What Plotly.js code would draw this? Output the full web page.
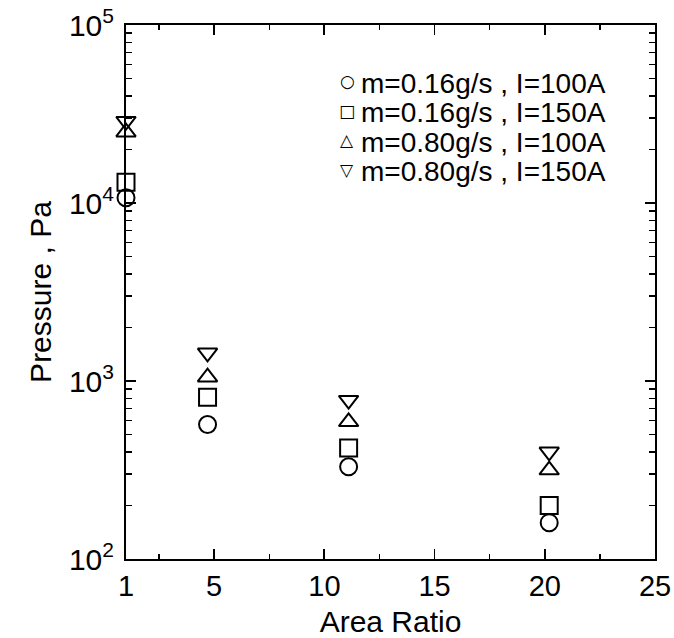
<!DOCTYPE html>
<html>
<head>
<meta charset="utf-8">
<script src="https://cdn.plot.ly/plotly-3.0.1.min.js"></script>
<style>
  html, body { margin: 0; padding: 0; background: #fff; }
  #chart { width: 674px; height: 638px; }
</style>
</head>
<body>
<div id="chart"></div>
<script>
// Area ratios at which the pressure was measured
const areaRatio = [1, 4.7, 11.1, 20.2];

// Pressure (Pa) for each operating condition
const p016_100 = [10700, 570, 330, 160];
const p016_150 = [13100, 810, 420, 200];
const p080_100 = [25000, 1050, 590, 316];
const p080_150 = [28800, 1440, 780, 400];

const seriesNames = [
  'm=0.16g/s , I=100A',
  'm=0.16g/s , I=150A',
  'm=0.80g/s , I=100A',
  'm=0.80g/s , I=150A'
];
const seriesSymbols = ['circle-open', 'square-open', 'triangle-up-open', 'triangle-down-open'];
const keyGlyphs = ['\u25CB', '\u25A1', '\u25B3', '\u25BD'];
const seriesValues = [p016_100, p016_150, p080_100, p080_150];

// Axis tick labels
const xTickVals = [1, 5, 10, 15, 20, 25];
const yTickVals = [100, 1000, 10000, 100000];
const yTickText = ['10<sup>2</sup>', '10<sup>3</sup>', '10<sup>4</sup>', '10<sup>5</sup>'];

const FONT = 'Liberation Sans, Arial, Helvetica, sans-serif';

// minor ticks: 2..9 within each decade, and halfway between x labels
const yMinor = [];
for (let e = 2; e < 5; e++) {
  for (let k = 2; k <= 9; k++) yMinor.push(k * Math.pow(10, e));
}
const xMinor = [2.5, 7.5, 12.5, 17.5, 22.5];

const traces = seriesValues.map((vals, i) => ({
  type: 'scatter',
  mode: 'markers',
  name: seriesNames[i],
  x: areaRatio,
  y: vals,
  cliponaxis: false,
  showlegend: false,
  marker: {
    symbol: seriesSymbols[i],
    size: 17,
    color: '#000',
    line: { color: '#000', width: 2 }
  }
}));

// key in the upper right: a glyph and a label per condition
const keyTop = 0.891, keyStep = 0.0552;
const annotations = [];
seriesNames.forEach((name, i) => {
  const y = keyTop - i * keyStep;
  annotations.push({
    xref: 'paper', yref: 'paper', x: 0.418, y: y + 0.004,
    xanchor: 'center', yanchor: 'middle', showarrow: false,
    text: keyGlyphs[i],
    font: { family: 'DejaVu Sans', size: 17, color: '#000' }
  });
  annotations.push({
    xref: 'paper', yref: 'paper', x: 0.44, y: y,
    xanchor: 'left', yanchor: 'middle', showarrow: false,
    text: name,
    font: { family: FONT, size: 28, color: '#000' }
  });
});

const layout = {
  width: 674,
  height: 638,
  margin: { l: 126, r: 19, t: 25, b: 79 },
  paper_bgcolor: '#fff',
  plot_bgcolor: '#fff',
  font: { family: FONT, color: '#000', size: 30 },
  showlegend: false,
  annotations: annotations,
  xaxis: {
    range: [1, 25],
    tickmode: 'array',
    tickvals: xTickVals,
    ticks: 'inside',
    ticklen: 10,
    tickwidth: 1.8,
    tickcolor: '#000',
    minor: { tickmode: 'array', tickvals: xMinor, ticks: 'inside', ticklen: 5, tickwidth: 1.5, tickcolor: '#000', showgrid: false },
    showline: true,
    linecolor: '#000',
    linewidth: 2,
    mirror: 'ticks',
    showgrid: false,
    zeroline: false,
    tickfont: { family: FONT, size: 29 },
    title: { text: 'Area Ratio', font: { family: FONT, size: 30 }, standoff: 10 }
  },
  yaxis: {
    type: 'log',
    range: [2, 5],
    tickmode: 'array',
    tickvals: yTickVals,
    ticktext: yTickText,
    ticks: 'inside',
    ticklen: 10,
    tickwidth: 1.8,
    tickcolor: '#000',
    ticklabelstandoff: 4,
    minor: { tickmode: 'array', tickvals: yMinor, ticks: 'inside', ticklen: 6, tickwidth: 1.5, tickcolor: '#000', showgrid: false },
    showline: true,
    linecolor: '#000',
    linewidth: 2,
    mirror: 'ticks',
    showgrid: false,
    zeroline: false,
    tickfont: { family: FONT, size: 30 },
    title: { text: 'Pressure , Pa', font: { family: FONT, size: 30 }, standoff: 8 }
  }
};

Plotly.newPlot('chart', traces, layout, { displayModeBar: false, staticPlot: true });
</script>
</body>
</html>
